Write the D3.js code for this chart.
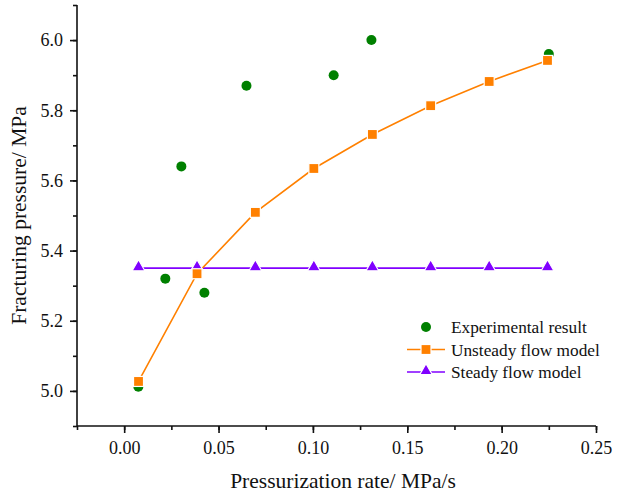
<!DOCTYPE html>
<html>
<head>
<meta charset="utf-8">
<script src="https://cdn.jsdelivr.net/npm/d3@7"></script>
<style>
  body { margin: 0; background: #fff; }
  svg { display: block; font-family: 'Liberation Serif', 'Times New Roman', serif; }
</style>
</head>
<body>
<div id="chart"></div>
<script>
// experimental result
var expRate = [ 0.0075, 0.0218, 0.0303, 0.0425, 0.0648, 0.111, 0.131, 0.225 ];
var expPressure = [ 5.012, 5.32, 5.64, 5.28, 5.87, 5.90, 6.00, 5.96 ];

// model curves share the same rates
var modelRate = [ 0.0076, 0.0386, 0.0695, 0.1005, 0.1315, 0.1624, 0.1934, 0.2243 ];
var unsteadyPressure = [ 5.027, 5.334, 5.509, 5.634, 5.731, 5.813, 5.882, 5.942 ];
var steadyPressure = [ 5.35, 5.35, 5.35, 5.35, 5.35, 5.35, 5.35, 5.35 ];

var xTicks = [ 0.00, 0.05, 0.10, 0.15, 0.20, 0.25 ];
var yTicks = [ 5.0, 5.2, 5.4, 5.6, 5.8, 6.0 ];
var legendNames = [ 'Experimental result', 'Unsteady flow model', 'Steady flow model' ];

var width = 619, height = 495;
var margin = { top: 5, right: 23, bottom: 69, left: 77 };
var cwidth = width - margin.left - margin.right;
var cheight = height - margin.top - margin.bottom;

var green = '#008000', orange = '#ff8000', purple = '#8000ff';

var svg = d3.select( '#chart' ).append( 'svg' )
	.attr( 'width', width )
	.attr( 'height', height );

var guts = svg.append( 'g' )
	.attr( 'transform', 'translate(' + margin.left + ',' + margin.top + ')' );

var x = d3.scaleLinear().domain( [ -0.025, 0.25 ] ).range( [ 0, cwidth ] );
var y = d3.scaleLinear().domain( [ 4.9, 6.1 ] ).range( [ cheight, 0 ] );

// minor ticks first, then major ones with labels
var xMinor = d3.range( -0.025, 0.2501, 0.025 );
var yMinor = d3.range( 4.9, 6.1001, 0.1 );

guts.append( 'g' )
	.attr( 'transform', 'translate(0,' + cheight + ')' )
	.call( d3.axisBottom( x ).tickValues( xMinor ).tickSize( 4 ).tickFormat( '' ) )
	.call( function ( g ) { g.select( '.domain' ).remove(); } );

guts.append( 'g' )
	.call( d3.axisLeft( y ).tickValues( yMinor ).tickSize( 4 ).tickFormat( '' ) )
	.call( function ( g ) { g.select( '.domain' ).remove(); } );

var xAxis = guts.append( 'g' )
	.attr( 'transform', 'translate(0,' + cheight + ')' )
	.call( d3.axisBottom( x ).tickValues( xTicks ).tickSize( 7 ).tickSizeOuter( 0 ).tickPadding( 8 ).tickFormat( d3.format( '.2f' ) ) );

var yAxis = guts.append( 'g' )
	.call( d3.axisLeft( y ).tickValues( yTicks ).tickSize( 7 ).tickSizeOuter( 0 ).tickPadding( 7 ).tickFormat( d3.format( '.1f' ) ) );

[ xAxis, yAxis ].forEach( function ( a ) {
	a.selectAll( 'text' ).style( 'font-size', '18px' ).style( 'font-family', 'Liberation Serif, serif' ).attr( 'fill', '#111' );
} );
guts.selectAll( '.domain, .tick line' ).attr( 'stroke', '#111' ).attr( 'stroke-width', 1.6 );

// extend the domain lines to the full range
xAxis.select( '.domain' ).attr( 'd', 'M0,0H' + cwidth );
yAxis.select( '.domain' ).attr( 'd', 'M0,' + cheight + 'V0' );

// axis titles
svg.append( 'text' )
	.attr( 'x', 343 )
	.attr( 'y', 488 )
	.attr( 'text-anchor', 'middle' )
	.style( 'font-size', '21.5px' )
	.attr( 'fill', '#111' )
	.text( 'Pressurization rate/ MPa/s' );

svg.append( 'text' )
	.attr( 'transform', 'translate(26,' + ( margin.top + cheight / 2 ) + ') rotate(-90)' )
	.attr( 'text-anchor', 'middle' )
	.style( 'font-size', '21.5px' )
	.attr( 'fill', '#111' )
	.text( 'Fracturing pressure/ MPa' );

var line = d3.line()
	.x( function ( d ) { return x( d[0] ); } )
	.y( function ( d ) { return y( d[1] ); } );

var steadyData = modelRate.map( function ( r, i ) { return [ r, steadyPressure[i] ]; } );
var unsteadyData = modelRate.map( function ( r, i ) { return [ r, unsteadyPressure[i] ]; } );
var expData = expRate.map( function ( r, i ) { return [ r, expPressure[i] ]; } );

var triangle = d3.symbol().type( d3.symbolTriangle ).size( 70 );

guts.append( 'path' )
	.datum( steadyData )
	.attr( 'd', line )
	.attr( 'fill', 'none' )
	.attr( 'stroke', purple )
	.attr( 'stroke-width', 1.6 );

guts.append( 'path' )
	.datum( unsteadyData )
	.attr( 'd', line )
	.attr( 'fill', 'none' )
	.attr( 'stroke', orange )
	.attr( 'stroke-width', 1.6 );

guts.selectAll( '.exp' )
	.data( expData )
	.enter().append( 'circle' )
	.attr( 'class', 'exp' )
	.attr( 'cx', function ( d ) { return x( d[0] ); } )
	.attr( 'cy', function ( d ) { return y( d[1] ); } )
	.attr( 'r', 5 )
	.attr( 'fill', green );

guts.selectAll( '.steady' )
	.data( steadyData )
	.enter().append( 'path' )
	.attr( 'class', 'steady' )
	.attr( 'd', triangle )
	.attr( 'transform', function ( d ) { return 'translate(' + x( d[0] ) + ',' + ( y( d[1] ) - 1 ) + ')'; } )
	.attr( 'fill', purple )
	.attr( 'stroke', '#fff' )
	.attr( 'stroke-width', 1.2 );

guts.selectAll( '.unsteady' )
	.data( unsteadyData )
	.enter().append( 'rect' )
	.attr( 'class', 'unsteady' )
	.attr( 'x', function ( d ) { return x( d[0] ) - 5; } )
	.attr( 'y', function ( d ) { return y( d[1] ) - 5; } )
	.attr( 'width', 10 )
	.attr( 'height', 10 )
	.attr( 'fill', orange )
	.attr( 'stroke', '#fff' )
	.attr( 'stroke-width', 1.2 );

// legend
var legend = svg.append( 'g' ).attr( 'transform', 'translate(407,327)' );
var legendRows = legend.selectAll( 'g' )
	.data( legendNames )
	.enter().append( 'g' )
	.attr( 'transform', function ( d, i ) { return 'translate(0,' + ( i * 22.5 ) + ')'; } );

legendRows.filter( function ( d, i ) { return i > 0; } ).append( 'line' )
	.attr( 'x1', 0 ).attr( 'x2', 38 )
	.attr( 'stroke', function ( d, i ) { return i === 0 ? orange : purple; } )
	.attr( 'stroke-width', 1.6 );

legendRows.each( function ( d, i ) {
	var g = d3.select( this );
	if ( i === 0 ) {
		g.append( 'circle' ).attr( 'cx', 19 ).attr( 'r', 5 ).attr( 'fill', green );
	} else if ( i === 1 ) {
		g.append( 'rect' ).attr( 'x', 14 ).attr( 'y', -5 ).attr( 'width', 10 ).attr( 'height', 10 )
			.attr( 'fill', orange ).attr( 'stroke', '#fff' ).attr( 'stroke-width', 1.2 );
	} else {
		g.append( 'path' ).attr( 'd', triangle ).attr( 'transform', 'translate(19,-1)' )
			.attr( 'fill', purple ).attr( 'stroke', '#fff' ).attr( 'stroke-width', 1.2 );
	}
} );

legendRows.append( 'text' )
	.attr( 'x', 44 )
	.attr( 'dy', '0.35em' )
	.style( 'font-size', '17.3px' )
	.attr( 'fill', '#111' )
	.text( function ( d ) { return d; } );
</script>
</body>
</html>
